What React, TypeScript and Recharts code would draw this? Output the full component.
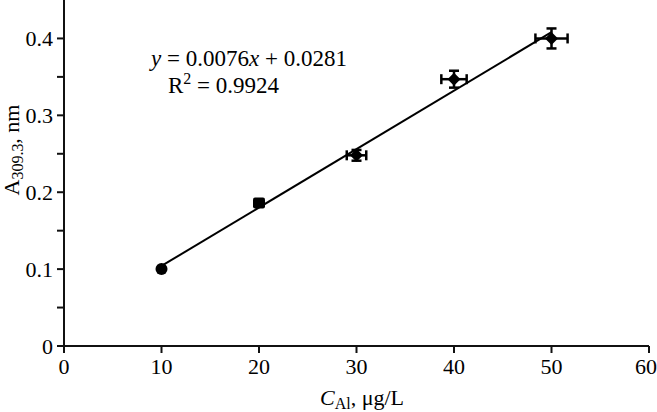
import React from 'react';
import { ScatterChart, Scatter, XAxis, YAxis, ErrorBar, Customized } from 'recharts';

// calibration points
const concentrations = [10, 20, 30, 40, 50];
const absorbance = [0.1, 0.186, 0.248, 0.347, 0.4];
const concErr = [0, 0.3, 1.0, 1.3, 1.65];
const absErr = [0, 0.003, 0.007, 0.011, 0.013];

const xTicks = [0, 10, 20, 30, 40, 50, 60];
const yTicks = [0, 0.05, 0.1, 0.15, 0.2, 0.25, 0.3, 0.35, 0.4];

// regression printed on the chart
const slope = 0.0076;
const intercept = 0.0281;
const trendX = [10, 50];

const points = concentrations.map((x, i) => ({ x, y: absorbance[i], ex: concErr[i], ey: absErr[i] }));
const trend = trendX.map((x) => ({ x, y: slope * x + intercept }));

const FONT = '"Liberation Serif", "Times New Roman", serif';

const yTickLabel = (v: number) => {
  const k = Math.round(v * 100);
  if (k % 10 !== 0) return '';
  return k === 0 ? '0' : v.toFixed(1);
};

function Marker(props: any) {
  const { cx, cy, index } = props;
  if (cx == null || cy == null) return null;
  if (index === 0) return <circle cx={cx} cy={cy} r={6} fill="#000" />;
  if (index === 1) return <rect x={cx - 6} y={cy - 5.5} width={12} height={11} rx={2} fill="#000" />;
  const d = 6.5;
  return <path d={`M${cx},${cy - d}L${cx + d},${cy}L${cx},${cy + d}L${cx - d},${cy}Z`} fill="#000" />;
}

function Annotations() {
  return (
    <g fontFamily={FONT} fill="#000">
      <text x={151} y={66} fontSize={23}>
        <tspan fontStyle="italic">y</tspan> = 0.0076<tspan fontStyle="italic">x</tspan> + 0.0281
      </text>
      <text x={168} y={93} fontSize={23}>
        R<tspan dy={-9} fontSize={16}>2</tspan>
        <tspan dy={9}> = 0.9924</tspan>
      </text>
      <text x={362} y={405} fontSize={22} textAnchor="middle">
        <tspan fontStyle="italic">C</tspan>
        <tspan dy={4} fontSize={16}>Al</tspan>
        <tspan dy={-4}>, μg/L</tspan>
      </text>
      <text x={19} y={150} fontSize={22} textAnchor="middle" transform="rotate(-90 19 150)">
        A<tspan dy={4} fontSize={16}>309.3</tspan>
        <tspan dy={-4}>, nm</tspan>
      </text>
    </g>
  );
}

export default function App() {
  return (
    <div style={{ position: 'absolute', left: 0, top: 0, background: '#fff' }}>
      <ScatterChart width={657} height={412} margin={{ top: 0, right: 8, bottom: 0, left: 0 }}>
        <XAxis
          type="number"
          dataKey="x"
          domain={[0, 60]}
          ticks={xTicks}
          height={66}
          tickSize={7}
          tickMargin={5}
          stroke="#111"
          strokeWidth={2}
          tick={{ fill: '#000', fontSize: 22, fontFamily: FONT }}
        />
        <YAxis
          type="number"
          dataKey="y"
          domain={[0, 0.45]}
          ticks={yTicks}
          width={64}
          tickSize={7}
          tickMargin={4}
          tickFormatter={yTickLabel}
          stroke="#111"
          strokeWidth={2}
          tick={{ fill: '#000', fontSize: 22, fontFamily: FONT }}
        />
        <Scatter data={trend} line={{ stroke: '#000', strokeWidth: 2 }} shape={() => null} isAnimationActive={false} />
        <Scatter data={points} shape={Marker} isAnimationActive={false}>
          <ErrorBar dataKey="ex" direction="x" width={5} stroke="#000" strokeWidth={2.5} />
          <ErrorBar dataKey="ey" direction="y" width={5} stroke="#000" strokeWidth={2.5} />
        </Scatter>
        <Customized component={Annotations} />
      </ScatterChart>
    </div>
  );
}
